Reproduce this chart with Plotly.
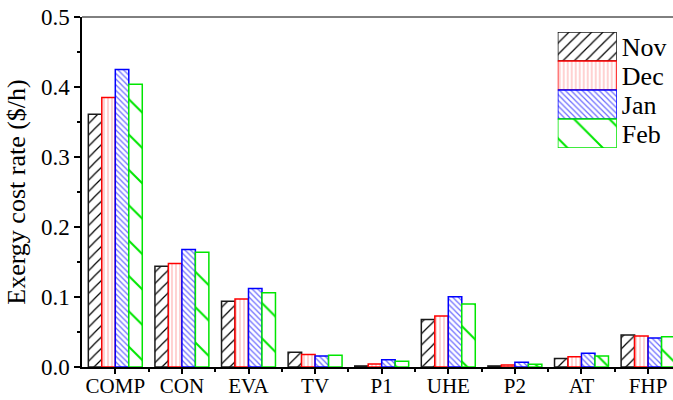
import plotly.graph_objects as go

categories = ["COMP", "CON", "EVA", "TV", "P1", "UHE", "P2", "AT", "FHP"]
series_names = ["Nov", "Dec", "Jan", "Feb"]
nov = [0.361, 0.144, 0.094, 0.021, 0.0015, 0.068, 0.0015, 0.012, 0.0457]
dec = [0.385, 0.148, 0.097, 0.018, 0.0043, 0.073, 0.0030, 0.0148, 0.0443]
jan = [0.425, 0.168, 0.112, 0.0157, 0.0105, 0.1005, 0.0067, 0.0195, 0.0414]
feb = [0.404, 0.164, 0.106, 0.0167, 0.0081, 0.090, 0.0038, 0.0157, 0.0433]
series_values = [nov, dec, jan, feb]
y_ticks = [0.0, 0.1, 0.2, 0.3, 0.4, 0.5]

line_colors = ["#1a1a1a", "#ff0000", "#0000ff", "#00e600"]
pat_shapes = ["/", "|", "\\", "\\"]
pat_colors = ["#000000", "#ff9a9a", "#6a6aff", "#00e600"]
pat_sizes = [8, 4, 4, 25]
pat_solid = [0.15, 0.22, 0.3, 0.08]

FONT = "Liberation Serif, Times New Roman, serif"
xpos = list(range(len(categories)))

fig = go.Figure()
for i, name in enumerate(series_names):
    fig.add_trace(go.Bar(
        x=xpos, y=series_values[i], name=name, showlegend=False,
        marker=dict(
            color="white",
            line=dict(color=line_colors[i], width=1.5),
            pattern=dict(shape=pat_shapes[i], fgcolor=pat_colors[i], bgcolor="white",
                         size=pat_sizes[i], solidity=pat_solid[i], fillmode="replace"),
        ),
    ))

# legend swatches drawn as an inset bar chart
leg_pos = list(range(len(series_names)))[::-1]
fig.add_trace(go.Bar(
    x=[1] * len(series_names), y=leg_pos, orientation="h", width=1,
    xaxis="x2", yaxis="y2", showlegend=False, hoverinfo="skip",
    marker=dict(
        color="white",
        line=dict(color=line_colors, width=1.5),
        pattern=dict(shape=pat_shapes, fgcolor=pat_colors, bgcolor="white",
                     size=pat_sizes, solidity=pat_solid, fillmode="replace"),
    ),
))

fig.update_layout(
    width=673, height=400,
    margin=dict(l=82, r=0, t=17, b=33),
    paper_bgcolor="white", plot_bgcolor="white",
    barmode="group", bargap=0.19, bargroupgap=0,
    font=dict(family=FONT, size=22, color="black"),
    xaxis=dict(
        range=[-0.5, 8.374], tickvals=xpos, ticktext=categories,
        ticks="outside", ticklen=5, tickwidth=1.5, tickcolor="black",
        ticklabelstandoff=-6,
        minor=dict(tickvals=[p + 0.5 for p in xpos], ticks="outside", ticklen=3,
                   tickwidth=1.5, tickcolor="black"),
        showline=True, linewidth=1.5, linecolor="black", showgrid=False,
        zeroline=False, automargin=False, tickfont=dict(size=21),
    ),
    yaxis=dict(
        range=[0, 0.5], tickvals=y_ticks, tickformat=".1f",
        ticks="outside", ticklen=6, tickwidth=1.5, tickcolor="black",
        minor=dict(dtick=0.05, ticks="outside", ticklen=3, tickwidth=1.5, tickcolor="black"),
        showline=True, linewidth=1.5, linecolor="black", showgrid=False,
        zeroline=False, automargin=False, tickfont=dict(size=23),
        title=dict(text="Exergy cost rate ($/h)", font=dict(size=26), standoff=8),
    ),
    xaxis2=dict(domain=[0.805, 0.905], anchor="y2", range=[0, 1], visible=False, fixedrange=True),
    yaxis2=dict(domain=[0.626, 0.957], anchor="x2", range=[-0.5, 3.5], side="right",
                tickvals=leg_pos, ticktext=series_names, showgrid=False, zeroline=False,
                showline=False, ticks="", ticklabelstandoff=4,
                tickfont=dict(size=26), fixedrange=True),
    shapes=[dict(type="line", xref="paper", yref="paper", x0=0, x1=1, y0=1, y1=1,
                 line=dict(color="black", width=1))],
)

fig.write_html("out.html")
